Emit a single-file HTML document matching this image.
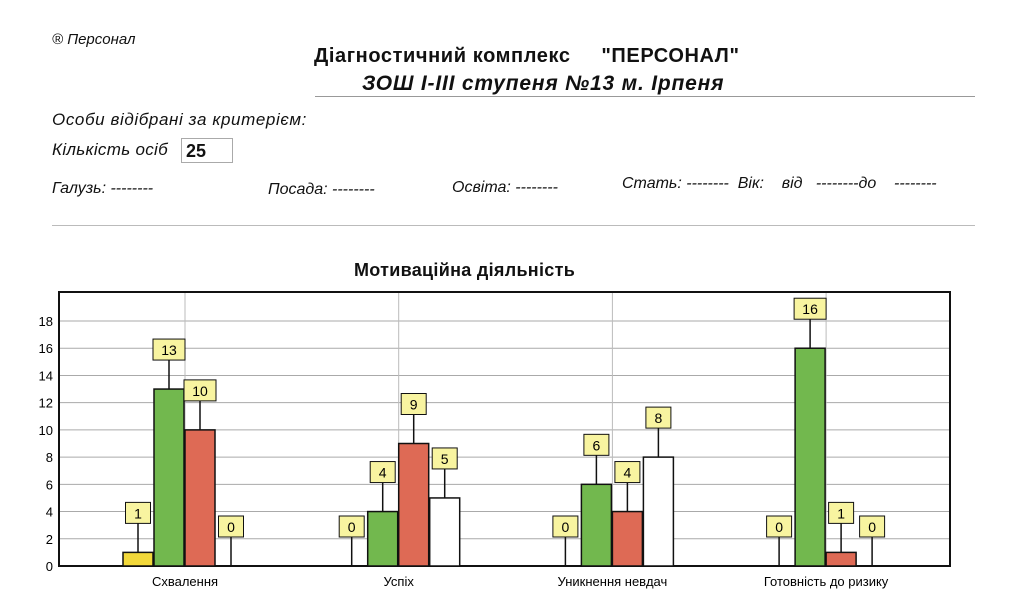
<!DOCTYPE html>
<html><head><meta charset="utf-8"><style>
body{margin:0;background:#fff;width:1024px;height:595px;overflow:hidden;font-family:"Liberation Sans",sans-serif;position:relative}
.t{position:absolute;white-space:nowrap;color:#111}
.i{font-style:italic}
</style></head><body>
<div class="t i" style="left:52px;top:31px;font-size:15px">® Персонал</div>
<div class="t" style="left:314px;top:45px;font-size:20px;font-weight:bold;letter-spacing:0.6px">Діагностичний комплекс &nbsp;&nbsp;&nbsp;&nbsp;"ПЕРСОНАЛ"</div>
<div class="t i" style="left:362px;top:72px;font-size:21px;font-weight:bold;letter-spacing:0.8px">ЗОШ І-ІІІ ступеня №13 м. Ірпеня</div>
<div style="position:absolute;left:315px;top:96px;width:660px;height:1px;background:#999"></div>
<div class="t i" style="left:52px;top:110px;font-size:17px;letter-spacing:0.6px">Особи відібрані за критерієм:</div>
<div class="t i" style="left:52px;top:140px;font-size:17px;letter-spacing:0.3px">Кількість осіб</div>
<div class="t" style="left:181px;top:138px;width:52px;height:25px;border:1px solid #aaa;font-size:18px;font-weight:bold;padding-left:4px;box-sizing:border-box;line-height:24px">25</div>
<div class="t i" style="left:52px;top:180px;font-size:16px">Галузь: --------</div>
<div class="t i" style="left:268px;top:181px;font-size:16px">Посада: --------</div>
<div class="t i" style="left:452px;top:179px;font-size:16px">Освіта: --------</div>
<div class="t i" style="left:622px;top:175px;font-size:16px">Стать: -------- &nbsp;Вік: &nbsp;&nbsp;&nbsp;від &nbsp;&nbsp;--------до &nbsp;&nbsp;&nbsp;--------</div>
<div style="position:absolute;left:52px;top:225px;width:923px;height:1px;background:#bbb"></div>
<div class="t" style="left:354px;top:260px;font-size:18px;font-weight:bold;letter-spacing:0.3px">Мотиваційна діяльність</div>
<svg id="ch" width="1024" height="595" style="position:absolute;left:0;top:0"></svg>
<script>
const categories=["Схвалення","Успіх","Уникнення невдач","Готовність до ризику"];
const seriesYellow=[1,0,0,0];
const seriesGreen=[13,4,6,16];
const seriesRed=[10,9,4,1];
const seriesWhite=[0,5,8,0];
const yTicks=[0,2,4,6,8,10,12,14,16,18];
const series=[seriesYellow,seriesGreen,seriesRed,seriesWhite];
const colors=["#f2d83a","#72b84e","#de6a55","#ffffff"];
const L=59,R=950,T=292,B=566,yMax=18;
const y=v=>B-v*(B-321)/yMax;
const xc=i=>185+i*213.7;
const svg=document.getElementById('ch');const NS="http://www.w3.org/2000/svg";
function mk(t,a){const e=document.createElementNS(NS,t);for(const k in a)e.setAttribute(k,a[k]);svg.appendChild(e);return e;}
yTicks.forEach(v=>{
 const g=mk('line',{x1:L,x2:R,y1:y(v),y2:y(v),stroke:'#aaa','stroke-width':1});
 
 const t=mk('text',{x:L-6,y:y(v)+5,'text-anchor':'end','font-size':13,'font-family':'Liberation Sans'});t.textContent=v;
 
});
categories.forEach((c,i)=>{
 const g=mk('line',{x1:xc(i),x2:xc(i),y1:T,y2:B,stroke:'#bbb','stroke-width':1});
 
 const t=mk('text',{x:xc(i),y:B+20,'text-anchor':'middle','font-size':13,'font-family':'Liberation Sans'});t.textContent=c;
 
});
const fr=mk('rect',{x:L,y:T,width:R-L,height:B-T,fill:'none',stroke:'#111','stroke-width':2});

categories.forEach((c,i)=>{
 series.forEach((s,j)=>{
  const v=s[i];const x=xc(i)+(j-2)*31;
  if(v>0){const b=mk('rect',{x:x,y:y(v),width:30,height:B-y(v),fill:colors[j],stroke:'#111','stroke-width':1.5});
   }
  const cx=x+15,top=y(v),bb=top-29,w=String(v).length>1?32:25;
  const ln=mk('line',{x1:cx,x2:cx,y1:bb,y2:top,stroke:'#111','stroke-width':1.5});
  
  const r=mk('rect',{x:cx-w/2,y:bb-21,width:w,height:21,fill:'#f8f4a0',stroke:'#111','stroke-width':1});
  
  const t=mk('text',{x:cx,y:bb-5,'text-anchor':'middle','font-size':14,'font-family':'Liberation Sans'});t.textContent=v;
  
 });
});
</script>
</body></html>
